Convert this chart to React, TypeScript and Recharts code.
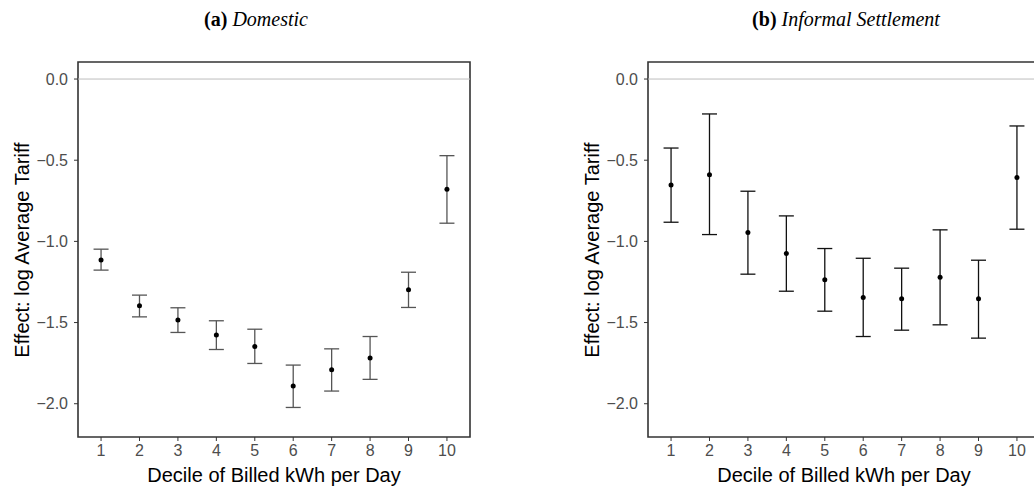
import React from 'react';
import { ComposedChart, Scatter, ErrorBar, XAxis, YAxis, ReferenceLine, ReferenceArea } from 'recharts';

// deciles 1..10
const deciles = [1, 2, 3, 4, 5, 6, 7, 8, 9, 10];
const xTicks = [1, 2, 3, 4, 5, 6, 7, 8, 9, 10];
const yTicks = [0, -0.5, -1, -1.5, -2];

// (a) Domestic: estimate, lower CI, upper CI
const domesticEst = [-1.114, -1.397, -1.485, -1.577, -1.647, -1.891, -1.791, -1.719, -1.298, -0.679];
const domesticLow = [-1.177, -1.465, -1.561, -1.666, -1.752, -2.023, -1.922, -1.85, -1.407, -0.888];
const domesticHigh = [-1.048, -1.331, -1.409, -1.489, -1.541, -1.762, -1.662, -1.586, -1.19, -0.472];

// (b) Informal Settlement
const informalEst = [-0.652, -0.589, -0.946, -1.075, -1.237, -1.346, -1.354, -1.221, -1.354, -0.607];
const informalLow = [-0.882, -0.958, -1.202, -1.307, -1.43, -1.586, -1.547, -1.514, -1.596, -0.925];
const informalHigh = [-0.425, -0.215, -0.691, -0.843, -1.044, -1.104, -1.165, -0.929, -1.116, -0.289];

const X_DOMAIN: [number, number] = [0.4, 10.6];
const Y_DOMAIN: [number, number] = [-2.205, 0.105];

const buildRows = (est: number[], low: number[], high: number[]) =>
  deciles.map((d, i) => ({ x: d, y: est[i], err: [est[i] - low[i], high[i] - est[i]] }));

const domesticRows = buildRows(domesticEst, domesticLow, domesticHigh);
const informalRows = buildRows(informalEst, informalLow, informalHigh);

const SANS = '"Liberation Sans", Arial, sans-serif';
const tickStyle = { fill: '#4d4d4d' };
const axisTitle: React.CSSProperties = {
  position: 'absolute',
  fontFamily: SANS,
  fontSize: 20,
  color: '#000',
  whiteSpace: 'nowrap',
  lineHeight: '20px',
};

const Dot = (props: any) => <circle cx={props.cx} cy={props.cy} r={2.5} fill="#000" />;

const Panel = ({ rows, left, barColor }: { rows: any[]; left: number; barColor: string }) => (
  <div style={{ position: 'absolute', left, top: 0, fontFamily: SANS, fontSize: 16 }}>
    <ComposedChart width={480} height={489} margin={{ top: 62, right: 10, left: 0, bottom: 22 }}>
      <XAxis
        dataKey="x"
        type="number"
        domain={X_DOMAIN}
        ticks={xTicks}
        tick={tickStyle}
        fontSize={16}
        tickSize={4}
        tickMargin={4}
        axisLine={false}
        tickLine={{ stroke: '#333' }}
        height={30}
        allowDataOverflow
      />
      <YAxis
        type="number"
        domain={Y_DOMAIN}
        ticks={yTicks}
        tick={tickStyle}
        fontSize={16}
        tickFormatter={(v: number) => (v === 0 ? '0.0' : v.toFixed(1).replace('-', '\u2212'))}
        tickSize={4}
        tickMargin={6}
        axisLine={false}
        tickLine={{ stroke: '#333' }}
        width={78}
        allowDataOverflow
      />
      <ReferenceLine y={0} stroke="#bdbdbd" strokeWidth={1} />
      <Scatter data={rows} dataKey="y" shape={<Dot />} isAnimationActive={false}>
        <ErrorBar dataKey="err" direction="y" width={7.5} stroke={barColor} strokeWidth={1.3} />
      </Scatter>
      <ReferenceArea
        x1={X_DOMAIN[0]}
        x2={X_DOMAIN[1]}
        y1={Y_DOMAIN[0]}
        y2={Y_DOMAIN[1]}
        fill="none"
        fillOpacity={0}
        stroke="#333"
        strokeWidth={1.6}
        ifOverflow="visible"
      />
    </ComposedChart>
  </div>
);

const titleStyle: React.CSSProperties = {
  position: 'absolute',
  top: 8,
  fontFamily: '"Liberation Serif", "Times New Roman", serif',
  fontSize: 20,
  lineHeight: '22px',
  color: '#000',
  whiteSpace: 'nowrap',
  transform: 'translateX(-50%)',
};

export default function App() {
  return (
    <div style={{ position: 'absolute', left: 0, top: 0, width: 1034, height: 489, overflow: 'hidden', background: '#fff' }}>
      <div style={{ ...titleStyle, left: 256 }}>
        <b>(a)</b> <i>Domestic</i>
      </div>
      <div style={{ ...titleStyle, left: 846 }}>
        <b>(b)</b> <i>Informal Settlement</i>
      </div>

      <Panel rows={domesticRows} left={0} barColor="#555" />
      <Panel rows={informalRows} left={570} barColor="#111" />

      <div style={{ ...axisTitle, left: 22, top: 250, transform: 'translate(-50%, -50%) rotate(-90deg)' }}>
        Effect: log Average Tariff
      </div>
      <div style={{ ...axisTitle, left: 592, top: 250, transform: 'translate(-50%, -50%) rotate(-90deg)' }}>
        Effect: log Average Tariff
      </div>
      <div style={{ ...axisTitle, left: 274, top: 465, transform: 'translateX(-50%)' }}>
        Decile of Billed kWh per Day
      </div>
      <div style={{ ...axisTitle, left: 844, top: 465, transform: 'translateX(-50%)' }}>
        Decile of Billed kWh per Day
      </div>
    </div>
  );
}
